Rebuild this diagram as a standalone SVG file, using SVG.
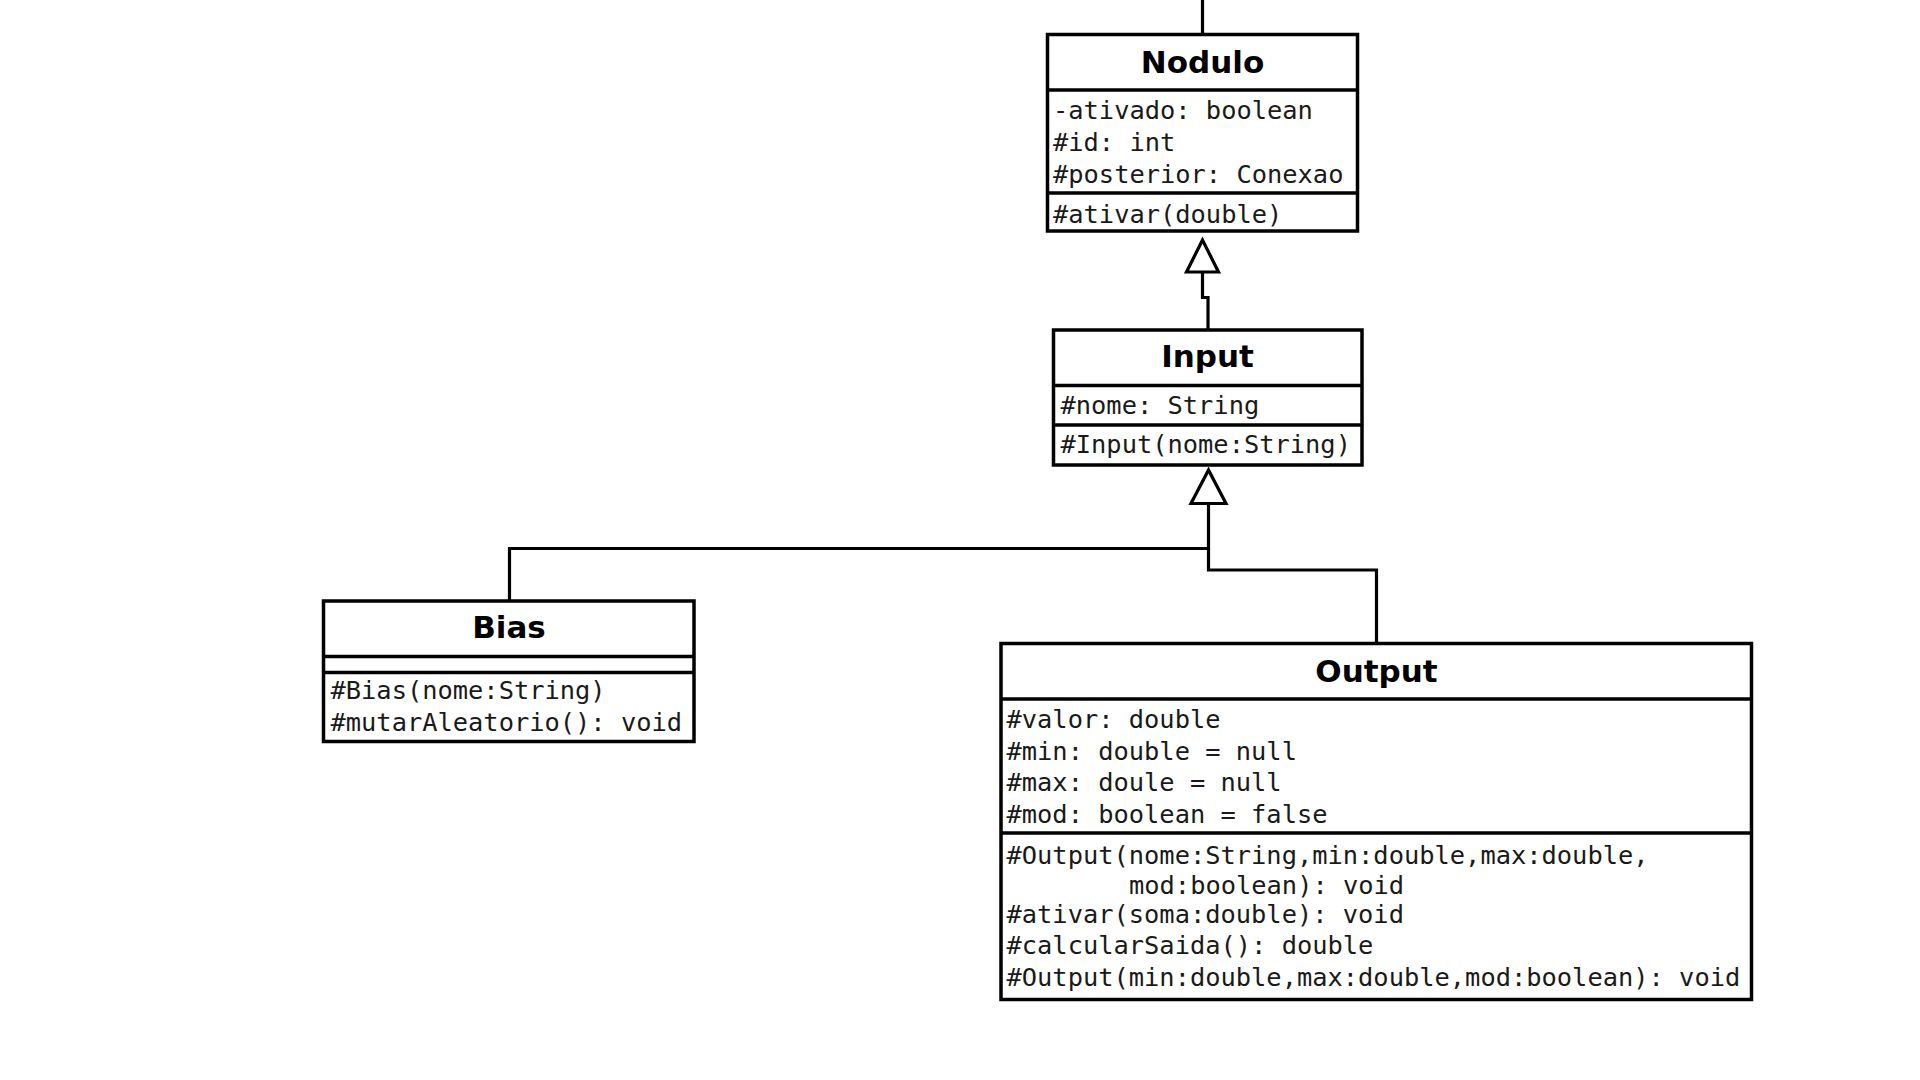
<svg xmlns="http://www.w3.org/2000/svg" width="1920" height="1080" viewBox="0 0 1920 1080">
  <style>
    .box { fill: #ffffff; stroke: #000000; stroke-width: 3.5; }
    .sep { stroke: #000000; stroke-width: 3.5; }
    .edge { fill: none; stroke: #000000; stroke-width: 3.2; stroke-linejoin: miter; }
    .head { fill: #ffffff; stroke: #000000; stroke-width: 3.2; stroke-linejoin: miter; }
    .title { font-family: "DejaVu Sans", "Liberation Sans", sans-serif; font-weight: bold; font-size: 31px; fill: #000000; text-anchor: middle; }
    .member { font-family: "DejaVu Sans Mono", "Liberation Mono", monospace; font-size: 25.4px; fill: #1a1a1a; }
  </style>
  <rect x="0" y="0" width="1920" height="1080" fill="#ffffff"/>

  <!-- generalization connectors -->
  <g id="connectors">
    <path class="edge" d="M1202.5 0 V34.5"/>
    <path class="edge" d="M1208 330 V297.5 H1202.5 V272"/>
    <polygon class="head" points="1202.5,240 1186.5,272 1218.5,272"/>
    <path class="edge" d="M509.5 601 V548.5 H1208.5 V504"/>
    <path class="edge" d="M1376.5 643.5 V570 H1208.5 V548.5"/>
    <polygon class="head" points="1208.5,470 1191,503.5 1226,503.5"/>
  </g>

  <g id="nodulo">
    <rect class="box" x="1047.5" y="34.5" width="310" height="196.5"/>
    <line class="sep" x1="1047.5" y1="90" x2="1357.5" y2="90"/>
    <line class="sep" x1="1047.5" y1="193" x2="1357.5" y2="193"/>
    <text class="title" x="1202.5" y="73">Nodulo</text>
    <text class="member" x="1053" y="119">-ativado: boolean</text>
    <text class="member" x="1053" y="151">#id: int</text>
    <text class="member" x="1053" y="183">#posterior: Conexao</text>
    <text class="member" x="1053" y="223">#ativar(double)</text>
  </g>

  <g id="input">
    <rect class="box" x="1053.5" y="330" width="308.5" height="135"/>
    <line class="sep" x1="1053.5" y1="385.5" x2="1362" y2="385.5"/>
    <line class="sep" x1="1053.5" y1="425" x2="1362" y2="425"/>
    <text class="title" x="1207.5" y="367">Input</text>
    <text class="member" x="1060.5" y="414">#nome: String</text>
    <text class="member" x="1060.5" y="453">#Input(nome:String)</text>
  </g>

  <g id="bias">
    <rect class="box" x="323.5" y="601" width="370.5" height="140.5"/>
    <line class="sep" x1="323.5" y1="656.5" x2="694" y2="656.5"/>
    <line class="sep" x1="323.5" y1="672.5" x2="694" y2="672.5"/>
    <text class="title" x="509" y="638">Bias</text>
    <text class="member" x="330.5" y="699">#Bias(nome:String)</text>
    <text class="member" x="330.5" y="731">#mutarAleatorio(): void</text>
  </g>

  <g id="output">
    <rect class="box" x="1001" y="643.5" width="750.5" height="356"/>
    <line class="sep" x1="1001" y1="699" x2="1751.5" y2="699"/>
    <line class="sep" x1="1001" y1="833" x2="1751.5" y2="833"/>
    <text class="title" x="1376.5" y="682">Output</text>
    <text class="member" x="1006.5" y="728">#valor: double</text>
    <text class="member" x="1006.5" y="760">#min: double = null</text>
    <text class="member" x="1006.5" y="791">#max: doule = null</text>
    <text class="member" x="1006.5" y="823">#mod: boolean = false</text>
    <text class="member" x="1006.5" y="864">#Output(nome:String,min:double,max:double,</text>
    <text class="member" x="1129" y="894">mod:boolean): void</text>
    <text class="member" x="1006.5" y="923">#ativar(soma:double): void</text>
    <text class="member" x="1006.5" y="954">#calcularSaida(): double</text>
    <text class="member" x="1006.5" y="986">#Output(min:double,max:double,mod:boolean): void</text>
  </g>
</svg>
